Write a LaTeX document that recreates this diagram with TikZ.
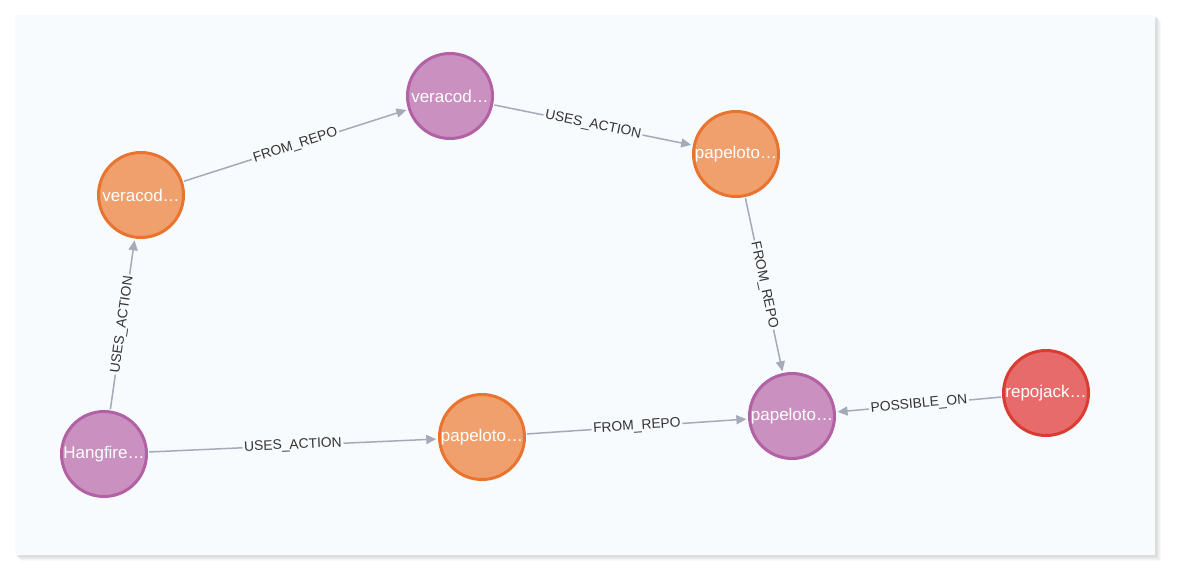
\documentclass[tikz,border=0pt]{standalone}
\usepackage{fontspec}
\setmainfont{Liberation Sans}
\usetikzlibrary{arrows.meta}
\definecolor{bgpanel}{HTML}{F7FBFE}
\definecolor{purplefill}{HTML}{C990C0}
\definecolor{purpleline}{HTML}{B261A5}
\definecolor{orangefill}{HTML}{F0A06C}
\definecolor{orangeline}{HTML}{E8742F}
\definecolor{redfill}{HTML}{E76B6B}
\definecolor{redline}{HTML}{DA3B33}
\definecolor{edgegray}{HTML}{A5ABB6}
\definecolor{labeltext}{HTML}{333333}
\definecolor{shadowgray}{HTML}{D8D8D8}
\begin{document}
\begin{tikzpicture}[x=0.03cm,y=-0.03cm,
  gnode/.style={circle,minimum size=2.55cm,inner sep=0pt,line width=0.09cm,
    text=white,font=\fontsize{14.5pt}{16pt}\selectfont},
  purplenode/.style={gnode,fill=purplefill,draw=purpleline},
  orangenode/.style={gnode,fill=orangefill,draw=orangeline},
  rednode/.style={gnode,fill=redfill,draw=redline},
  rel/.style={draw=edgegray,line width=0.045cm,
    -{Triangle[length=0.3cm,width=0.27cm]},shorten >=1.5pt,shorten <=1pt},
  rellabel/.style={midway,sloped,fill=bgpanel,inner sep=1.5pt,text=labeltext,
    font=\fontsize{11.8pt}{13pt}\selectfont}
]
\useasboundingbox (0,0) rectangle (1180,580);
% panel shadow
\foreach \d/\o in {6/0.15,5/0.2,4/0.3,3/0.4,2/0.5}{
  \fill[shadowgray,opacity=\o] (15+\d,15+\d) rectangle (1155+\d,555+\d);
}
\fill[bgpanel] (15,15) rectangle (1155,555);

% nodes
\node[purplenode] (vp) at (450,96) {veracod…};
\node[orangenode] (vo) at (141,195) {veracod…};
\node[orangenode] (pt) at (736,154) {papeloto…};
\node[purplenode] (pp) at (792,416) {papeloto…};
\node[rednode] (rj) at (1046,393) {repojack…};
\node[orangenode] (pb) at (482,437) {papeloto…};
\node[purplenode] (hf) at (104,454) {Hangfire…};

% edges
\draw[rel] (vo) -- node[rellabel] {FROM\_REPO} (vp);
\draw[rel] (vp) -- node[rellabel] {USES\_ACTION} (pt);
\draw[rel] (pt) -- node[rellabel] {FROM\_REPO} (pp);
\draw[rel] (hf) -- node[rellabel] {USES\_ACTION} (vo);
\draw[rel] (hf) -- node[rellabel] {USES\_ACTION} (pb);
\draw[rel] (pb) -- node[rellabel] {FROM\_REPO} (pp);
\draw[rel] (rj) -- node[rellabel] {POSSIBLE\_ON} (pp);
\end{tikzpicture}
\end{document}
